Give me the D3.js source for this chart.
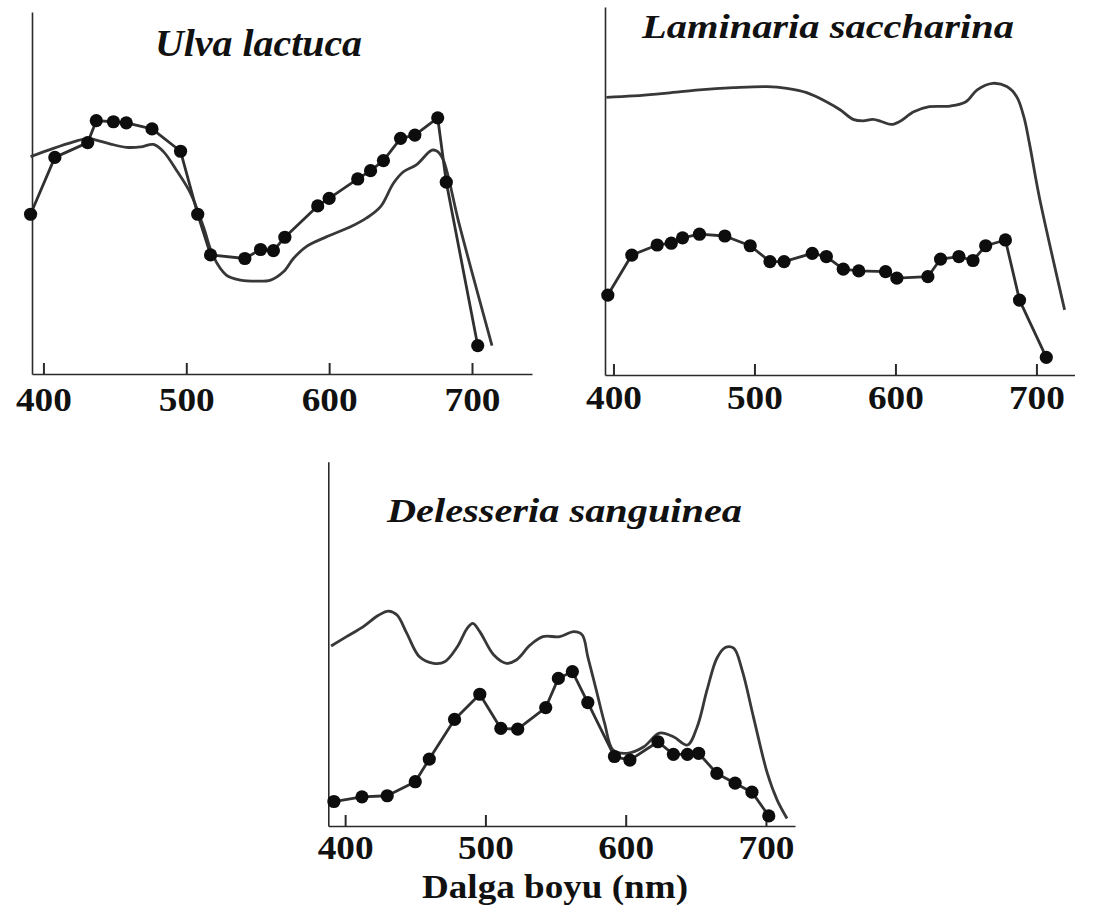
<!DOCTYPE html>
<html>
<head>
<meta charset="utf-8">
<script src="https://cdn.jsdelivr.net/npm/d3@7"></script>
<style>
  html, body { margin: 0; padding: 0; background: #fff; }
  svg { display: block; }
</style>
</head>
<body>
<svg id="chart" width="1095" height="909"></svg>
<script>
// ---- Data: wavelength (nm) and relative response ----
const tickValues = [400, 500, 600, 700];
const panelTitles = ["Ulva lactuca", "Laminaria saccharina", "Delesseria sanguinea"];
const axisTitle = "Dalga boyu (nm)";

// Ulva lactuca — action spectrum (dots) and absorption spectrum (smooth line)
const ulvaActionNm  = [391, 408, 431, 437, 449, 458, 476, 496, 508, 517, 541, 552, 561, 569, 592, 600, 620, 629, 638, 650, 660, 676, 682, 704];
const ulvaActionVal = [44.4, 60.2, 64.3, 70.4, 70.1, 69.8, 68.1, 61.9, 44.4, 33.1, 32.1, 34.6, 34.3, 38.0, 46.7, 48.8, 54.2, 56.5, 59.3, 65.5, 66.4, 71.2, 53.3, 7.9];
const ulvaAbsorbNm  = [391, 407, 421, 431, 437, 447, 458, 468, 477, 484, 493, 503, 512, 519, 528, 538, 549, 559, 568, 575, 584, 598, 615, 626, 636, 645, 652, 661, 672, 676, 680, 691, 714];
const ulvaAbsorbVal = [60.4, 62.7, 64.5, 65.5, 65.0, 63.9, 63.0, 63.1, 63.8, 61.8, 56.7, 50.2, 40.9, 32.6, 27.5, 26.1, 25.8, 26.1, 28.4, 32.1, 35.4, 38.1, 40.9, 43.3, 46.5, 53.0, 56.2, 58.1, 62.2, 61.8, 59.4, 41.7, 7.9];

// Laminaria saccharina
const lamActionNm  = [396, 413, 431, 441, 449, 461, 479, 497, 511, 521, 541, 551, 563, 574, 593, 601, 623, 632, 645, 655, 664, 678, 688, 707];
const lamActionVal = [22.2, 33.3, 36.1, 36.6, 38.1, 39.1, 38.6, 35.9, 31.5, 31.5, 33.8, 32.9, 29.4, 28.9, 28.7, 26.9, 27.3, 32.2, 32.9, 31.8, 35.9, 37.5, 20.8, 4.9];
const lamAbsorbNm  = [395, 414, 438, 461, 485, 509, 523, 537, 551, 561, 570, 577, 584, 590, 597, 603, 613, 624, 639, 650, 658, 669, 679, 686, 691, 695, 702, 720];
const lamAbsorbVal = [77.1, 77.5, 78.3, 79.2, 79.8, 80.1, 79.6, 78.4, 75.9, 73.6, 71.0, 70.6, 71.0, 70.4, 69.6, 70.4, 73.1, 74.5, 74.7, 75.9, 79.2, 81.0, 80.1, 77.3, 71.8, 64.4, 49.5, 18.1];

// Delesseria sanguinea
const delActionNm  = [392, 412, 430, 450, 460, 478, 496, 511, 523, 543, 552, 562, 573, 592, 603, 623, 634, 644, 652, 665, 678, 690, 702];
const delActionVal = [6.8, 8.1, 8.4, 12.3, 18.6, 29.6, 36.6, 27.1, 26.9, 32.9, 41.0, 42.9, 34.3, 19.3, 18.3, 23.4, 19.9, 19.9, 20.2, 14.6, 11.9, 9.4, 2.8];
const delAbsorbNm  = [390, 401, 413, 424, 431, 437, 444, 453, 463, 471, 480, 487, 491, 496, 506, 515, 522, 532, 541, 553, 563, 569, 573, 579, 585, 591, 601, 613, 624, 634, 644, 651, 658, 665, 671, 677, 683, 691, 701, 708, 715];
const delAbsorbVal = [50.0, 52.6, 55.4, 58.6, 59.7, 58.6, 53.5, 47.0, 45.2, 45.6, 49.8, 54.9, 56.3, 54.0, 47.5, 45.2, 46.1, 50.3, 52.6, 52.6, 54.0, 53.1, 47.0, 37.8, 28.5, 21.1, 20.2, 22.0, 25.8, 24.8, 22.5, 27.6, 37.8, 46.6, 49.6, 49.4, 43.3, 30.4, 14.6, 7.2, 2.1];

// ---- Layout of the three panels ----
const panels = [
  {
    title: panelTitles[0], action: [ulvaActionNm, ulvaActionVal], absorb: [ulvaAbsorbNm, ulvaAbsorbVal],
    xDomain: [392, 742], xRange: [32, 532], yDomain: [0, 100.6], yRange: [374, 12],
    titleX: 155, titleY: 56, titleLen: 207, titleSize: 37, labelY: 37
  },
  {
    title: panelTitles[1], action: [lamActionNm, lamActionVal], absorb: [lamAbsorbNm, lamAbsorbVal],
    xDomain: [394, 727], xRange: [605, 1074.5], yDomain: [0, 102.2], yRange: [375, 7],
    titleX: 642, titleY: 38, titleLen: 372, titleSize: 34, labelY: 34
  },
  {
    title: panelTitles[2], action: [delActionNm, delActionVal], absorb: [delAbsorbNm, delAbsorbVal],
    xDomain: [388, 720.7], xRange: [328.3, 795], yDomain: [0, 101.2], yRange: [826, 461.7],
    titleX: 387, titleY: 522, titleLen: 355, titleSize: 33, labelY: 33
  }
];

const svg = d3.select("#chart");
svg.append("rect").attr("width", 1095).attr("height", 909).attr("fill", "#fff");

const serif = "'Liberation Serif', 'Times New Roman', 'DejaVu Serif', serif";
const zip = (a, b) => a.map((d, i) => [d, b[i]]);

panels.forEach(p => {
  const x = d3.scaleLinear().domain(p.xDomain).range(p.xRange);
  const y = d3.scaleLinear().domain(p.yDomain).range(p.yRange);
  const g = svg.append("g");

  // x axis with inward ticks
  const xAxis = d3.axisBottom(x)
    .tickValues(tickValues)
    .tickSize(-11)
    .tickSizeOuter(0)
    .tickFormat(d3.format("d"));

  const ax = g.append("g")
    .attr("transform", `translate(0,${y(0)})`)
    .call(xAxis);
  ax.select(".domain").attr("stroke", "#2a2a2a").attr("stroke-width", 1.6);
  ax.selectAll(".tick line").attr("stroke", "#2a2a2a").attr("stroke-width", 2);
  ax.selectAll(".tick text")
    .attr("y", p.labelY)
    .attr("dy", 0)
    .attr("fill", "#111")
    .attr("font-family", serif)
    .attr("font-weight", "bold")
    .attr("font-size", 34)
    .attr("textLength", 56)
    .attr("lengthAdjust", "spacingAndGlyphs");

  // y axis: plain vertical line
  const ay = g.append("g")
    .attr("transform", `translate(${p.xRange[0]},0)`)
    .call(d3.axisLeft(y).tickValues([]).tickSizeOuter(0));
  ay.select(".domain").attr("stroke", "#2a2a2a").attr("stroke-width", 1.6);

  // absorption spectrum (smooth)
  const smooth = d3.line()
    .x(d => x(d[0])).y(d => y(d[1]))
    .curve(d3.curveCatmullRom.alpha(0.5));
  g.append("path")
    .datum(zip(p.absorb[0], p.absorb[1]))
    .attr("d", smooth)
    .attr("fill", "none")
    .attr("stroke", "#383838")
    .attr("stroke-width", 2.8)
    .attr("stroke-linejoin", "round");

  // action spectrum (points joined by straight segments)
  const actionData = zip(p.action[0], p.action[1]);
  const straight = d3.line().x(d => x(d[0])).y(d => y(d[1]));
  g.append("path")
    .datum(actionData)
    .attr("d", straight)
    .attr("fill", "none")
    .attr("stroke", "#303030")
    .attr("stroke-width", 2.8)
    .attr("stroke-linejoin", "round");
  g.selectAll("circle.pt")
    .data(actionData)
    .join("circle")
    .attr("class", "pt")
    .attr("cx", d => x(d[0]))
    .attr("cy", d => y(d[1]))
    .attr("r", 6.6)
    .attr("fill", "#0d0d0d");

  // panel title
  g.append("text")
    .attr("x", p.titleX)
    .attr("y", p.titleY)
    .attr("font-family", serif)
    .attr("font-style", "italic")
    .attr("font-weight", "bold")
    .attr("font-size", p.titleSize)
    .attr("fill", "#111")
    .attr("textLength", p.titleLen)
    .attr("lengthAdjust", "spacingAndGlyphs")
    .text(p.title);
});

// shared x-axis title under the bottom panel
svg.append("text")
  .attr("x", 422)
  .attr("y", 898)
  .attr("font-family", serif)
  .attr("font-weight", "bold")
  .attr("font-size", 34)
  .attr("fill", "#111")
  .attr("textLength", 266)
  .attr("lengthAdjust", "spacingAndGlyphs")
  .text(axisTitle);
</script>
</body>
</html>
